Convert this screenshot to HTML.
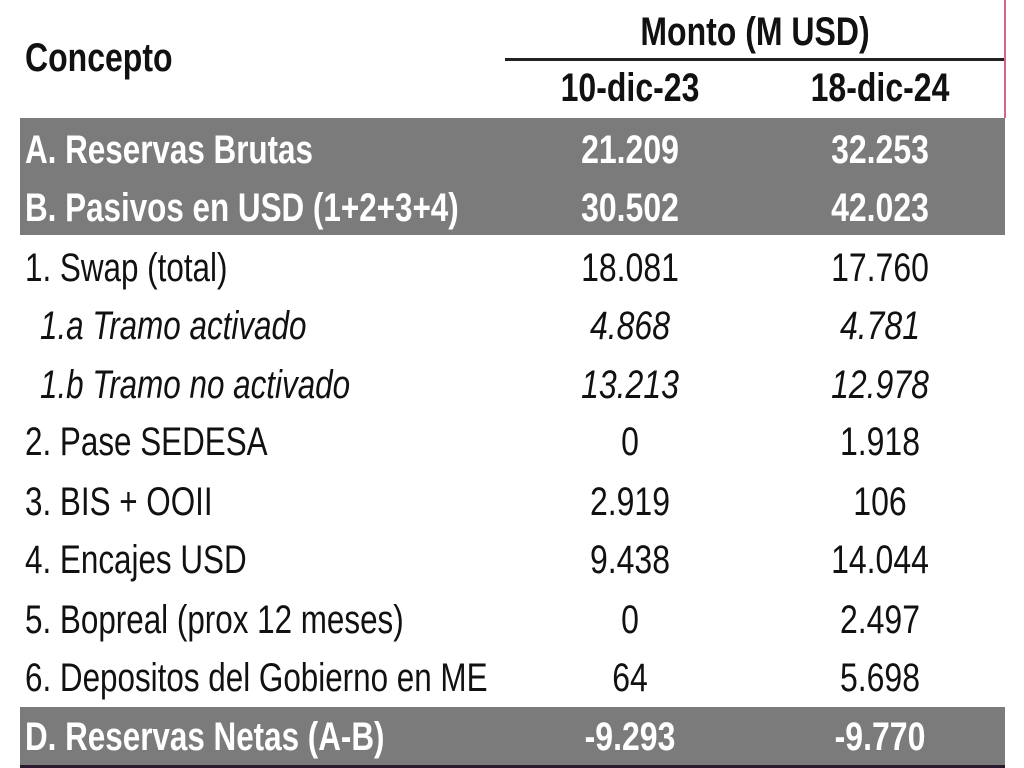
<!DOCTYPE html>
<html><head><meta charset="utf-8"><style>
html,body{margin:0;padding:0;background:#fff;}
body{width:1024px;height:768px;position:relative;overflow:hidden;font-family:"Liberation Sans Narrow","Liberation Sans",sans-serif;font-size:40px;color:#111;}
.abs{position:absolute;}
.row{position:absolute;left:20px;width:985px;height:58px;}
.row span{position:absolute;top:0;line-height:58px;white-space:nowrap;}
.lbl{left:5px;transform:scaleX(0.785);transform-origin:left center;}
.c1{left:510px;width:200px;text-align:center;transform:scaleX(0.8);}
.c2{left:760px;width:200px;text-align:center;transform:scaleX(0.8);}
.gray{background:#7b7b7b;color:#fff;font-weight:bold;}
.it{font-style:italic;}
.hd{font-weight:bold;font-size:40px;transform:scaleX(0.8);}
</style></head><body>
<div class="abs hd" style="left:25px;top:36px;transform-origin:left center;">Concepto</div>
<div class="abs hd" style="left:505px;top:10px;width:500px;text-align:center;">Monto (M USD)</div>
<div class="abs" style="left:505px;top:58px;width:500px;height:3px;background:#222;"></div>
<div class="abs" style="left:1004px;top:0;width:2px;height:118px;background:#d4668a;"></div>
<div class="abs hd" style="left:530px;top:66px;width:200px;text-align:center;">10-dic-23</div>
<div class="abs hd" style="left:780px;top:66px;width:200px;text-align:center;">18-dic-24</div>
<div class="abs gray" style="left:20px;top:118px;width:985px;height:117px;"></div>
<div class="abs gray" style="left:20px;top:707px;width:985px;height:58px;"></div>
<div class="abs" style="left:20px;top:765px;width:985px;height:3px;background:#2a1a2e;"></div>

<div class="row gray" style="top:121px;background:none"><span class="lbl">A. Reservas Brutas</span><span class="c1">21.209</span><span class="c2">32.253</span></div>
<div class="row gray" style="top:179px;background:none"><span class="lbl">B. Pasivos en USD (1+2+3+4)</span><span class="c1">30.502</span><span class="c2">42.023</span></div>
<div class="row" style="top:239px"><span class="lbl">1. Swap (total)</span><span class="c1">18.081</span><span class="c2">17.760</span></div>
<div class="row it" style="top:297px"><span class="lbl" style="left:20px">1.a Tramo activado</span><span class="c1">4.868</span><span class="c2">4.781</span></div>
<div class="row it" style="top:356px"><span class="lbl" style="left:20px">1.b Tramo no activado</span><span class="c1">13.213</span><span class="c2">12.978</span></div>
<div class="row" style="top:413px"><span class="lbl">2. Pase SEDESA</span><span class="c1">0</span><span class="c2">1.918</span></div>
<div class="row" style="top:473px"><span class="lbl">3. BIS + OOII</span><span class="c1">2.919</span><span class="c2">106</span></div>
<div class="row" style="top:531px"><span class="lbl">4. Encajes USD</span><span class="c1">9.438</span><span class="c2">14.044</span></div>
<div class="row" style="top:591px"><span class="lbl">5. Bopreal (prox 12 meses)</span><span class="c1">0</span><span class="c2">2.497</span></div>
<div class="row" style="top:649px"><span class="lbl">6. Depositos del Gobierno en ME</span><span class="c1">64</span><span class="c2">5.698</span></div>
<div class="row gray" style="top:708px;background:none"><span class="lbl">D. Reservas Netas (A-B)</span><span class="c1">-9.293</span><span class="c2">-9.770</span></div>
</body></html>
